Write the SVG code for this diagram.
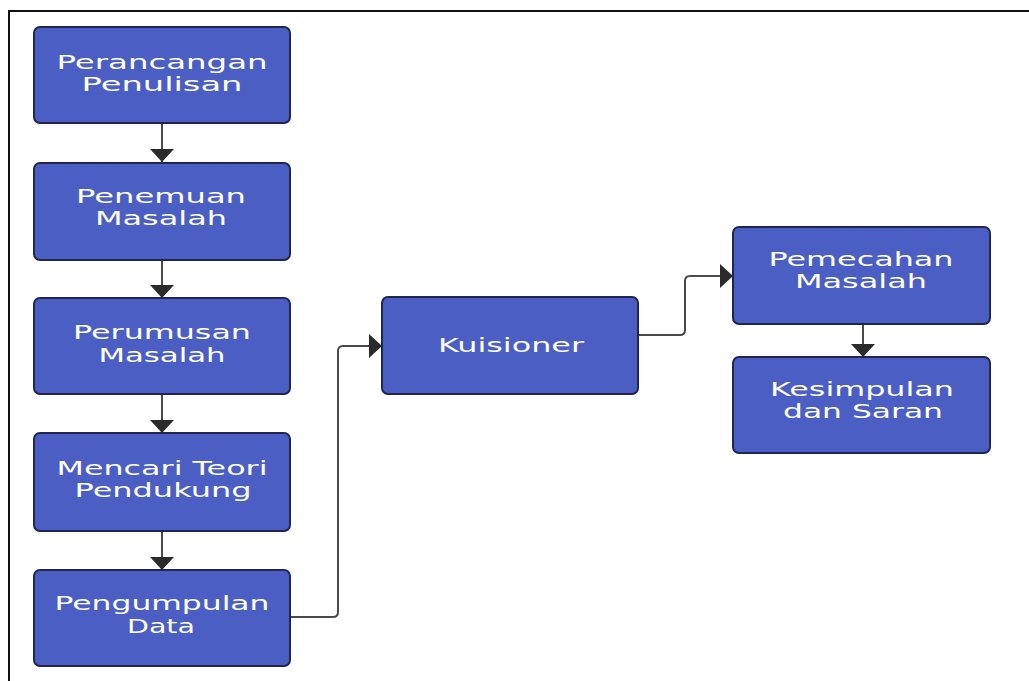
<svg xmlns="http://www.w3.org/2000/svg" width="1029" height="681" viewBox="0 0 1029 681">
<defs>
<style>
.box{fill:#4b5ec4;stroke:#1f2650;stroke-width:2}
.t{fill:#ffffff;font-family:"DejaVu Sans","Liberation Sans",sans-serif;font-size:19px;text-anchor:middle}
.c{fill:none;stroke:#4a4a4a;stroke-width:2}
</style>
<marker id="ah" viewBox="0 0 13 24" refX="13" refY="12" markerWidth="13" markerHeight="24" markerUnits="userSpaceOnUse" orient="auto">
<path d="M0,0 L13,12 L0,24 Z" fill="#2b2b2b"/>
</marker>
</defs>
<rect width="1029" height="681" fill="#ffffff"/>
<path d="M9,681 V11 H1029" fill="none" stroke="#111" stroke-width="2"/>
<g id="connectors">
<path class="c" d="M162,123 V162" marker-end="url(#ah)"/>
<path class="c" d="M162,260 V298" marker-end="url(#ah)"/>
<path class="c" d="M162,394 V433" marker-end="url(#ah)"/>
<path class="c" d="M162,531 V570" marker-end="url(#ah)"/>
<path class="c" d="M290,617 H333 Q338,617 338,612 V351 Q338,346 343,346 H382" marker-end="url(#ah)"/>
<path class="c" d="M638,335 H680 Q685,335 685,330 V281 Q685,276 690,276 H733" marker-end="url(#ah)"/>
<path class="c" d="M863,324 V357" marker-end="url(#ah)"/>
</g>
<g id="n1"><rect class="box" x="34" y="27" width="256" height="96" rx="6"/>
<text class="t" x="162" y="69" textLength="211" lengthAdjust="spacingAndGlyphs">Perancangan</text>
<text class="t" x="162" y="91" textLength="161" lengthAdjust="spacingAndGlyphs">Penulisan</text></g>
<g id="n2"><rect class="box" x="34" y="163" width="256" height="97" rx="6"/>
<text class="t" x="161" y="203" textLength="170" lengthAdjust="spacingAndGlyphs">Penemuan</text>
<text class="t" x="161" y="225" textLength="132" lengthAdjust="spacingAndGlyphs">Masalah</text></g>
<g id="n3"><rect class="box" x="34" y="298" width="256" height="96" rx="6"/>
<text class="t" x="162" y="339" textLength="178" lengthAdjust="spacingAndGlyphs">Perumusan</text>
<text class="t" x="162" y="362" textLength="127" lengthAdjust="spacingAndGlyphs">Masalah</text></g>
<g id="n4"><rect class="box" x="34" y="433" width="256" height="98" rx="6"/>
<text class="t" x="162" y="475" textLength="211" lengthAdjust="spacingAndGlyphs">Mencari Teori</text>
<text class="t" x="163" y="497" textLength="177" lengthAdjust="spacingAndGlyphs">Pendukung</text></g>
<g id="n5"><rect class="box" x="34" y="570" width="256" height="96" rx="6"/>
<text class="t" x="162" y="610" textLength="215" lengthAdjust="spacingAndGlyphs">Pengumpulan</text>
<text class="t" x="161" y="633" textLength="68" lengthAdjust="spacingAndGlyphs">Data</text></g>
<g id="n6"><rect class="box" x="382" y="297" width="256" height="97" rx="6"/>
<text class="t" x="511" y="352" textLength="146" lengthAdjust="spacingAndGlyphs">Kuisioner</text></g>
<g id="n7"><rect class="box" x="733" y="227" width="257" height="97" rx="6"/>
<text class="t" x="861" y="266" textLength="185" lengthAdjust="spacingAndGlyphs">Pemecahan</text>
<text class="t" x="861" y="288" textLength="132" lengthAdjust="spacingAndGlyphs">Masalah</text></g>
<g id="n8"><rect class="box" x="733" y="357" width="257" height="96" rx="6"/>
<text class="t" x="862" y="396" textLength="184" lengthAdjust="spacingAndGlyphs">Kesimpulan</text>
<text class="t" x="863" y="418" textLength="160" lengthAdjust="spacingAndGlyphs">dan Saran</text></g>
</svg>
